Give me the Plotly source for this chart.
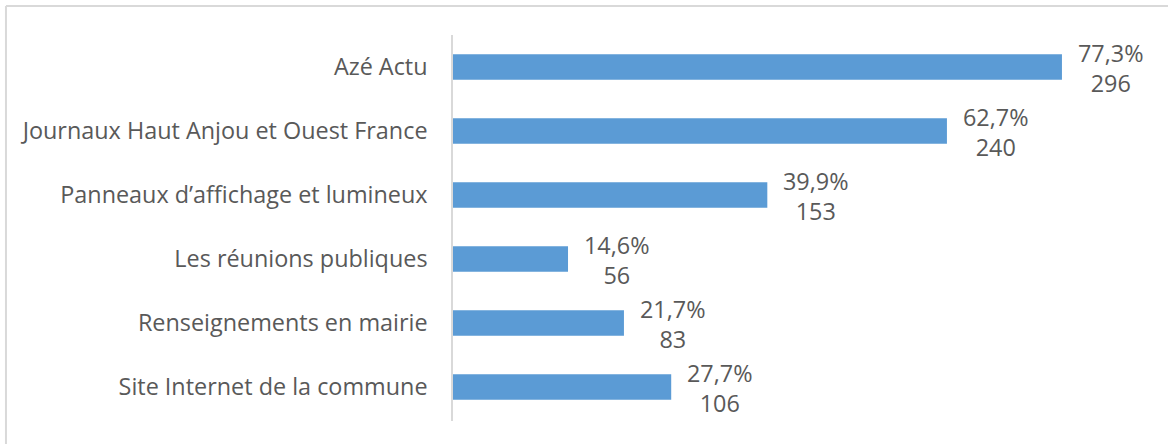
import plotly.graph_objects as go

# Sources d'information utilisées (ordre d'affichage de haut en bas)
categories = [
    "Azé Actu",
    "Journaux Haut Anjou et Ouest France",
    "Panneaux d’affichage et lumineux",
    "Les réunions publiques",
    "Renseignements en mairie",
    "Site Internet de la commune",
]
percentages = [77.3, 62.7, 39.9, 14.6, 21.7, 27.7]
counts = [296, 240, 153, 56, 83, 106]

FONT = "Open Sans, Lato, sans-serif"
FONT_SIZE = 23.4
TEXT_COLOR = "#595959"
BAR_COLOR = "#5B9BD5"

fig = go.Figure(
    go.Bar(
        y=categories,
        x=percentages,
        orientation="h",
        marker=dict(color=BAR_COLOR, line=dict(width=0)),
        width=0.4,
        hoverinfo="skip",
    )
)

# Étiquettes de valeur : pourcentage et effectif sur deux lignes
for cat, pct, n in zip(categories, percentages, counts):
    label = f"{pct:.1f}".replace(".", ",") + "%<br>" + str(n)
    fig.add_annotation(
        x=pct,
        y=cat,
        xref="x",
        yref="y",
        text=label,
        showarrow=False,
        xanchor="left",
        yanchor="middle",
        align="center",
        xshift=14,
        yshift=-1,
        font=dict(family=FONT, size=FONT_SIZE, color=TEXT_COLOR),
    )

# Bordure du cadre (bords gauche et haut)
border = dict(type="line", xref="paper", yref="paper",
              line=dict(color="#D9D9D9", width=2), layer="below")
fig.add_shape(x0=-0.6305, x1=-0.6305, y0=-0.2, y1=1.0751, **border)
fig.add_shape(x0=-0.6305, x1=1.2, y0=1.0751, y1=1.0751, **border)

fig.update_layout(
    width=1168,
    height=444,
    margin=dict(l=453, r=6, t=35, b=23),
    paper_bgcolor="white",
    plot_bgcolor="white",
    showlegend=False,
    font=dict(family=FONT, size=FONT_SIZE, color=TEXT_COLOR),
    xaxis=dict(
        range=[0, 90],
        visible=False,
        fixedrange=True,
    ),
    yaxis=dict(
        categoryorder="array",
        categoryarray=categories[::-1],
        showline=True,
        linecolor="#D9D9D9",
        linewidth=1.5,
        showgrid=False,
        ticks="",
        ticklabelstandoff=19,
        tickfont=dict(family=FONT, size=FONT_SIZE, color=TEXT_COLOR),
        fixedrange=True,
    ),
)

fig.write_html("out.html")
